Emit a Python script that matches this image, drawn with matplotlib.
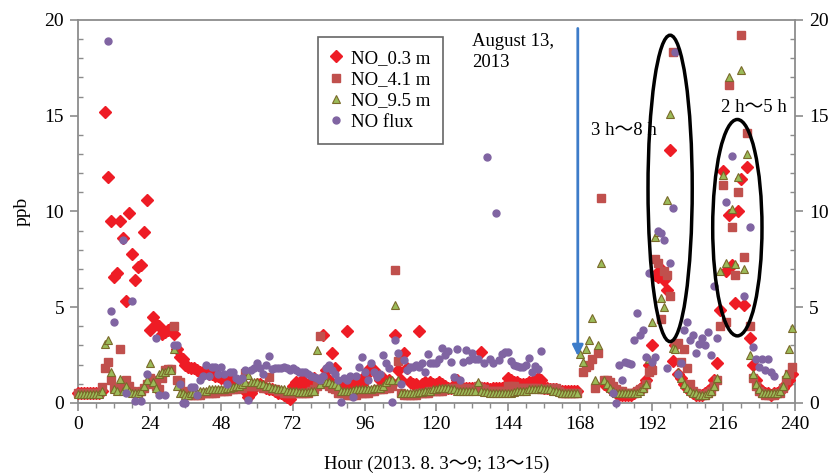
import numpy as np
import matplotlib
matplotlib.use("Agg")
import matplotlib.pyplot as plt
from matplotlib.patches import Ellipse

nan = np.nan
hours = np.arange(0, 241)

no_03 = [
    0.5, 0.5, 0.5, 0.5, 0.5, 0.5, 0.5, 0.5, 0.6, 15.2, 11.8, 9.5, 6.6, 6.8, 9.5, 8.6, 5.3, 9.9, 7.8, 6.4, 7.1, 7.2, 8.9, 10.6,
    3.8, 4.5, 4.1, 4.0, 3.6, 3.7, 3.8, 3.9, 3.6, 2.8, 2.4, 2.3, 2.0, 1.9, 1.8, 1.8, 1.7, 1.6, 1.6, 1.6, 1.5, 1.5, 1.4, 1.4,
    1.3, 1.3, 1.2, 1.2, 1.1, 1.1, 1.0, 1.0, 0.6, 0.3, 0.5, 0.8, 1.0, 1.0, 0.9, 0.8, 0.7, 0.7, 0.6, 0.5, 0.5, 0.4, 0.3, 0.2,
    0.9, 1.1, 1.0, 1.2, 1.0, 0.9, 1.1, 1.3, 1.0, 1.2, 3.55, 1.7, 1.2, 2.6, 1.8, 1.0, 0.9, 1.0, 3.75, 1.0, 0.9, 1.1, 1.2, 1.0,
    1.4, 1.7, 1.8, 1.7, 1.5, 1.2, 1.3, 1.0, 1.2, 1.0, 3.55, 1.7, 1.2, 2.6, 1.8, 1.1, 1.0, 1.0, 3.75, 1.0, 1.1, 1.0, 1.1, 1.0,
    1.0, 1.1, 1.0, 0.9, 0.8, 0.8, 0.9, 1.2, 0.8, 0.8, 0.8, 0.8, 0.8, 0.8, 0.9, 2.65, 0.8, 0.8, 0.7, 0.8, 0.8, 0.8, 0.8, 0.9,
    1.3, 1.2, 1.1, 1.1, 1.0, 1.0, 1.0, 1.1, 1.1, 1.2, 1.3, 1.2, 0.8, 0.8, 0.7, 0.7, 0.7, 0.6, 0.6, 0.6, 0.6, 0.6, 0.6, 0.6,
    nan, nan, nan, nan, nan, nan, nan, nan, 1.0, 0.9, 0.8, 0.6, 0.5, 0.4, 0.4, 0.4, 0.4, 0.4, 0.5, 0.6, 0.7, 0.9, 1.2, 2.0,
    3.0, 6.7, 6.6, 7.0, 6.4, 5.9, 13.2, 2.2, 3.0, 1.5, 1.3, 1.0, 0.8, 0.6, 0.5, 0.4, 0.4, 0.4, 0.5, 0.6, 0.8, 1.2, 2.1, 4.85,
    12.1, 6.9, 9.8, 7.2, 5.2, 10.0, 11.7, 5.1, 12.3, 3.4, 2.0, 1.2, 0.8, 0.6, 0.5, 0.5, 0.4, 0.5, 0.5, 0.6, 0.8, 1.0, 1.2, 1.5,
    nan,
]

no_41 = [
    0.5, 0.5, 0.5, 0.5, 0.5, 0.5, 0.5, 0.5, 0.85, 1.8, 2.15, 1.2, 0.8, 0.7, 2.8, 0.8, 1.2, 0.9, 0.6, 0.5, 0.5, 0.6, 0.8, 1.0,
    1.3, 1.2, 0.9, 0.7, 1.3, 1.7, 1.75, 1.75, 4.0, 1.2, 1.1, 0.6, 0.5, 0.4, 0.4, 0.4, 0.4, 0.4, 0.5, 0.5, 0.5, 0.5, 0.5, 0.6,
    0.6, 0.6, 0.6, 0.7, 0.7, 0.7, 0.8, 0.8, 1.55, 0.9, 0.9, 0.9, 0.9, 0.9, 0.8, 0.8, 1.35, 0.7, 0.7, 0.6, 0.6, 0.5, 0.5, 0.5,
    0.5, 0.5, 0.5, 0.5, 0.5, 0.5, 0.6, 0.7, 0.9, 3.5, 1.2, 1.0, 0.9, 0.8, 0.7, 0.5, 0.5, 0.5, 0.4, 0.4, 0.4, 0.4, 0.5, 0.5,
    0.5, 0.5, 0.6, 0.6, 0.7, 0.7, 0.7, 0.8, 0.8, 0.9, 6.95, 2.2, 0.5, 0.4, 0.4, 0.4, 0.4, 0.4, 0.5, 0.5, 0.5, 0.5, 0.6, 0.6,
    0.6, 0.6, 0.6, 0.7, 0.7, 0.8, 0.8, 0.8, 0.8, 0.8, 0.8, 0.7, 0.7, 0.7, 0.9, 0.8, 0.7, 0.6, 0.6, 0.6, 0.6, 0.6, 0.6, 0.6,
    0.9, 0.9, 0.9, 0.8, 0.8, 0.8, 0.8, 0.8, 0.8, 0.8, 0.8, 0.7, 0.7, 0.7, 0.8, 0.8, 0.8, 0.6, 0.5, 0.5, 0.5, 0.5, 0.5, 0.5,
    nan, 1.6, 1.9, 2.0, 2.3, 0.8, 2.6, 10.7, 1.2, 1.2, 1.1, 0.9, 0.7, 0.6, 0.6, 0.5, 0.5, 0.5, 0.5, 0.6, 0.7, 0.8, 1.0, 1.6,
    1.7, 7.5, 7.3, 4.4, 6.9, 6.7, 5.6, 18.3, 3.1, 3.15, 2.15, 2.8, 1.8, 1.0, 0.6, 0.5, 0.4, 0.4, 0.4, 0.5, 0.6, 0.9, 1.2, 4.0,
    11.4, 4.2, 16.6, 9.2, 6.7, 11.0, 19.2, 7.6, 14.1, 4.0, 1.3, 0.9, 0.6, 0.5, 0.4, 0.4, 0.4, 0.4, 0.5, 0.5, 0.8, 1.2, 1.5, 1.9,
    nan,
]

no_95 = [
    0.45, 0.45, 0.45, 0.45, 0.45, 0.45, 0.45, 0.45, 0.6, 3.1, 3.3, 1.6, 0.7, 0.6, 1.25, 0.6, 0.9, 0.6, 0.5, 0.5, 0.5, 0.6, 0.9, 1.2,
    2.1, 1.1, 0.8, 1.5, 1.6, 1.6, 1.7, 1.7, 2.8, 0.9, 0.5, 0.5, 0.4, 0.4, 0.5, 0.5, 0.5, 0.6, 0.6, 0.6, 0.7, 0.7, 0.7, 0.7,
    0.7, 0.75, 0.8, 0.8, 0.85, 0.9, 0.9, 1.0, 1.1, 1.45, 1.1, 1.1, 1.1, 1.0, 1.0, 0.9, 0.9, 0.8, 0.8, 0.75, 0.7, 0.7, 0.6, 0.6,
    0.6, 0.6, 0.55, 0.55, 0.55, 0.55, 0.6, 0.6, 2.75, 1.0, 1.2, 1.1, 1.1, 1.0, 1.0, 0.9, 0.6, 0.6, 0.6, 0.6, 0.65, 0.7, 0.7, 0.7,
    0.7, 0.7, 0.75, 0.8, 0.8, 0.8, 0.9, 1.1, 1.2, 1.2, 5.1, 1.2, 0.5, 0.5, 0.5, 0.5, 0.5, 0.5, 0.55, 0.55, 0.6, 0.6, 0.6, 0.7,
    0.7, 0.8, 0.8, 0.8, 0.8, 0.7, 0.7, 0.6, 0.6, 0.6, 0.6, 0.6, 0.6, 0.6, 1.1, 0.6, 0.55, 0.55, 0.5, 0.5, 0.5, 0.5, 0.5, 0.5,
    0.5, 0.5, 0.55, 0.6, 0.6, 0.6, 0.6, 0.7, 0.7, 0.7, 0.7, 0.8, 0.75, 0.7, 0.7, 0.6, 0.6, 0.55, 0.5, 0.5, 0.5, 0.5, 0.5, 0.5,
    2.55, 2.15, 2.8, 3.3, 4.45, 1.2, 3.0, 7.3, 1.2, 1.0, 0.8, 0.6, 0.5, 0.5, 0.5, 0.5, 0.5, 0.5, 0.5, 0.5, 0.6, 0.8, 1.0, 2.3,
    4.2, 8.65, 8.95, 5.5, 5.0, 10.6, 15.1, 2.85, 2.8, 1.6, 1.3, 1.0, 0.8, 0.6, 0.5, 0.5, 0.4, 0.4, 0.4, 0.5, 0.6, 0.9, 1.3, 6.9,
    11.9, 7.3, 17.0, 10.1, 7.25, 11.8, 17.4, 7.0, 13.0, 2.5, 1.5, 1.0, 0.7, 0.5, 0.5, 0.5, 0.5, 0.5, 0.5, 0.6, 0.9, 1.5, 2.8, 3.9,
    nan,
]

no_flux = [
    nan, nan, nan, nan, nan, nan, nan, nan, nan, nan, 18.9, 4.8, 4.2, nan, nan, 8.5, 0.5, nan, 5.3, 0.1, nan, 0.1, nan, 1.5,
    nan, nan, 3.4, 0.4, nan, 0.4, nan, nan, 3.0, 3.0, 1.0, 0.0, 0.0, nan, 0.85, 0.85, 0.4, 1.2, 1.4, 2.0, 1.4, 1.9, 1.9, 1.5,
    1.9, 1.5, 1.0, 1.6, 1.6, 1.3, 1.2, 1.3, 1.7, 0.15, 1.7, 1.8, 2.1, 1.8, 1.5, 2.0, 2.45, 1.75, 1.8, 1.8, 1.8, 1.9, 1.8, 1.7,
    1.8, 1.7, 1.6, 1.6, 1.6, 1.5, 1.4, 1.35, 1.3, 1.2, 1.4, 1.8, 2.0, 1.7, 1.5, 1.2, 0.05, 1.3, 1.2, 1.4, 0.3, 1.4, 1.9, 2.4,
    1.6, 1.2, 2.1, 1.6, 1.35, 1.5, 2.5, 2.1, 1.8, 0.05, 3.3, 2.6, 1.0, 2.25, 1.7, 1.9, 1.9, 2.0, 1.9, 2.1, 1.6, 2.55, 2.1, 2.1,
    2.1, 2.3, 2.85, 2.5, 2.7, 2.15, 1.35, 2.8, 1.2, 2.15, 2.75, 2.25, 2.6, 2.3, 2.3, nan, 2.1, 12.85, 2.3, 2.1, 9.9, 2.25, 2.55, 2.65,
    2.65, 2.2, 2.0, 1.95, 1.9, 1.9, 2.0, 2.35, 1.6, 1.95, 1.75, 2.7, nan, nan, nan, nan, nan, nan, nan, nan, nan, nan, nan, nan,
    nan, nan, nan, nan, nan, nan, nan, nan, nan, nan, nan, 0.5, 0.0, 2.0, 1.2, 2.15, 2.1, 2.05, 3.3, 4.7, 3.55, 3.8, 2.4, 6.8,
    2.15, 2.4, 9.0, 8.85, 8.5, 1.8, 7.3, 10.2, 18.3, 1.5, 2.1, 3.8, 4.2, 3.3, 3.55, 2.6, 3.1, 3.4, 3.0, 3.7, 2.5, 6.1, 3.4, nan,
    nan, 10.5, nan, 12.9, nan, nan, nan, 5.6, nan, 9.2, 2.9, 2.3, 1.9, 2.3, 1.7, 2.3, 1.6, 1.4, nan, nan, nan, nan, nan, nan,
    nan,
]

series_labels = ["NO_0.3 m", "NO_4.1 m", "NO_9.5 m", "NO flux"]
x_ticks = [0, 24, 48, 72, 96, 120, 144, 168, 192, 216, 240]
y_ticks = [0, 5, 10, 15, 20]

serif = ["Liberation Serif", "Noto Sans CJK SC", "DejaVu Serif"]
plt.rcParams["font.family"] = serif

fig = plt.figure(figsize=(8.29, 4.74), dpi=100)
ax = fig.add_axes([0.094, 0.150, 0.865, 0.808])

styles = [
    dict(marker="D", color="#ee1c25", mec="#ee1c25", ms=5.8),
    dict(marker="s", color="#c0504d", mec="#c0504d", ms=5.8),
    dict(marker="^", color="#9bbb59", mec="#7a6a2a", ms=6.2, mew=0.8),
    dict(marker="o", color="#8064a2", mec="#8064a2", ms=5.0),
]
for vals, lab, st in zip([no_03, no_41, no_95, no_flux], series_labels, styles):
    ax.plot(hours, np.array(vals, dtype=float), linestyle="none", label=lab,
            clip_on=False, zorder=3, **st)

ax.set_xlim(0, 240)
ax.set_ylim(0, 20)
ax.set_xticks(x_ticks)
ax.set_yticks(y_ticks)
ax.set_xticks(np.arange(0, 241, 6), minor=True)
ax.set_yticks(np.arange(0, 21, 1), minor=True)

spine_c = "#8c8c8c"
for s in ax.spines.values():
    s.set_color(spine_c)
    s.set_linewidth(1.3)
ax.tick_params(axis="both", which="major", direction="out", length=6, width=1.2,
               color=spine_c, labelsize=14)
ax.tick_params(axis="both", which="minor", direction="out", length=3.5, width=1.0,
               color=spine_c)
ax.tick_params(axis="y", which="major", right=True, labelright=True, pad=4)
ax.tick_params(axis="y", which="minor", right=True, left=True, direction="in")

ax.set_xlabel("Hour (2013. 8. 3～9; 13～15)", fontsize=13.5, labelpad=16)
ax.set_ylabel("ppb", fontsize=14, labelpad=10)

leg = ax.legend(loc="upper left", bbox_to_anchor=(0.335, 0.956), borderaxespad=0,
                frameon=True, fancybox=False, edgecolor="#404040", fontsize=13.5,
                handletextpad=0.55, borderpad=0.7, labelspacing=0.22,
                handlelength=0.5)
leg.get_frame().set_linewidth(1.2)

# annotations
ax.annotate("", xy=(167.3, 2.3), xytext=(167.3, 19.7),
            arrowprops=dict(arrowstyle="-|>", color="#3d7cc9", lw=2.0,
                            mutation_scale=16))
ax.text(132.0, 19.3, "August 13,\n2013", fontsize=13.5, va="top", ha="left",
        linespacing=1.25)
ax.text(171.8, 14.25, "3 h～8 h", fontsize=13.5, va="center", ha="left")
ax.text(215.2, 15.4, "2 h～5 h", fontsize=13.5, va="center", ha="left")
ax.add_patch(Ellipse((198.2, 11.2), 14.8, 16.0, fill=False, ec="black", lw=2.5, zorder=4))
ax.add_patch(Ellipse((220.7, 9.15), 16.5, 11.3, fill=False, ec="black", lw=2.5, zorder=4))

fig.savefig("out.png", dpi=100)
